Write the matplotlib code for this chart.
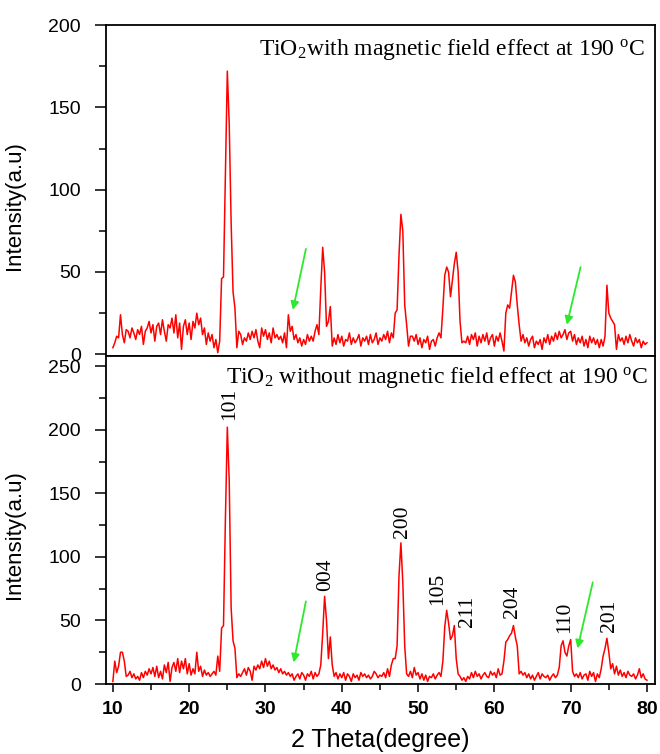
import numpy as np
import matplotlib
matplotlib.use("Agg")
import matplotlib.pyplot as plt

# XRD scans, 2 theta from 10 to 80 deg, step 0.25
with_field = [
    4, 7, 11, 10,  24, 12, 7, 15,  14, 10, 16, 13,  9, 15, 12, 17,  6, 14, 16, 20,
    13, 18, 8, 17,  19, 12, 21, 14,  8, 18, 16, 22,  13, 24, 10, 19,  3, 17, 21, 12,
    19, 9, 20, 16,  25, 18, 22, 12,  16, 6, 13, 8,  12, 4, 9, 1,  8, 46, 47, 110,
    172, 140, 80, 38,  28, 4, 14, 12,  6, 10, 8, 13,  9, 14, 10, 15,  8, 4, 16, 11,
    15, 9, 13, 7,  16, 10, 12, 9,  11, 7, 13, 4,  24, 14, 17, 9,  12, 7, 10, 5,
    9, 6, 12, 8,  11, 8, 14, 18,  12, 40, 65, 50,  17, 20, 29, 5,  10, 6, 12, 7,
    11, 5, 9, 8,  13, 6, 10, 7,  9, 12, 5, 10,  8, 11, 6, 12,  7, 9, 13, 6,
    10, 8, 12, 9,  14, 7, 13, 10,  25, 27, 60, 85,  75, 30, 18, 5,  11, 11, 8, 12,
    6, 10, 4, 9,  7, 11, 3, 8,  9, 5, 10, 13,  10, 28, 48, 53,  50, 35, 45, 55,
    62, 50, 20, 7,  8, 7, 11, 6,  12, 9, 13, 5,  11, 7, 12, 8,  13, 6, 10, 12,
    5, 11, 8, 13,  8, 2, 25, 30,  28, 38, 48, 44,  30, 18, 8, 12,  7, 10, 5, 9,
    11, 4, 8, 6,  9, 3, 10, 7,  12, 6, 11, 8,  13, 9, 14, 10,  12, 15, 9, 13,
    14, 8, 12, 6,  10, 7, 11, 5,  9, 4, 11, 7,  10, 6, 9, 4,  9, 5, 11, 42,
    25, 22, 20, 18,  3, 12, 8, 10,  6, 11, 7, 12,  8, 5, 10, 7,  9, 4, 8, 6,
    7,
]
without_field = [
    2, 18, 9, 14,  25, 25, 18, 6,  7, 10, 5, 8,  4, 6, 3, 9,  5, 10, 7, 12,
    8, 13, 6, 14,  5, 10, 4, 15,  9, 17, 2, 13,  17, 10, 20, 9,  18, 12, 20, 8,
    16, 7, 12, 8,  25, 10, 14, 6,  11, 7, 9, 6,  8, 10, 7, 22,  10, 44, 46, 130,
    202, 160, 60, 34,  28, 5, 8, 6,  9, 12, 7, 13,  10, 3, 14, 11,  15, 12, 18, 13,
    20, 14, 18, 12,  15, 11, 13, 9,  12, 8, 10, 7,  9, 6, 8, 3,  6, 8, 4, 9,
    7, 3, 8, 6,  10, 4, 9, 6,  8, 15, 40, 69,  50, 20, 37, 15,  6, 9, 4, 8,
    5, 9, 3, 8,  6, 2, 8, 5,  7, 3, 9, 6,  8, 5, 7, 4,  6, 10, 8, 5,
    7, 6, 9, 5,  12, 6, 15, 20,  20, 30, 85, 111,  80, 30, 8, 6,  10, 5, 13, 7,
    9, 4, 8, 3,  7, 2, 6, 5,  8, 4, 7, 9,  6, 18, 45, 58,  48, 35, 38, 46,
    20, 8, 6, 3,  5, 2, 6, 4,  9, 5, 10, 6,  8, 4, 7, 9,  6, 5, 10, 7,
    9, 5, 12, 7,  8, 18, 33, 35,  38, 40, 46, 37,  30, 8, 10, 7,  9, 5, 8, 4,
    7, 3, 6, 9,  4, 8, 6, 5,  7, 3, 6, 8,  5, 7, 13, 30,  34, 25, 22, 30,
    35, 10, 6, 8,  5, 9, 4, 7,  8, 3, 10, 6,  9, 2, 8, 5,  12, 22, 28, 36,
    25, 12, 16, 8,  14, 7, 11, 6,  9, 5, 10, 7,  6, 8, 4, 7,  12, 5, 8, 4,
    3,
]
two_theta = np.linspace(10, 80, len(with_field))
two_theta2 = np.linspace(10, 80, len(without_field))

# peak indexing (hkl) for the bottom panel
hkl_labels = ["101", "004", "200", "105", "211", "204", "110", "201"]
hkl_x = [25.3, 37.9, 48.0, 52.6, 56.5, 62.4, 69.2, 75.1]
hkl_y = [208, 73, 115, 62, 45, 52, 40, 41]

# green arrows (tail x, tail y, head x, head y)
arrows_top = [(35.3, 64, 33.6, 27), (71.3, 53, 69.5, 18)]
arrows_bot = [(35.3, 65, 33.7, 17), (72.9, 80, 70.9, 28)]

plt.rcParams['font.family'] = ['Liberation Sans', 'DejaVu Sans']
plt.rcParams['mathtext.fontset'] = 'custom'
plt.rcParams['mathtext.rm'] = 'Liberation Serif'
plt.rcParams['mathtext.it'] = 'Liberation Serif:italic'

fig = plt.figure(figsize=(6.6, 7.54), dpi=100)
ax1 = fig.add_axes([0.1606, 0.5279, 0.8318, 0.4389])
ax2 = fig.add_axes([0.1606, 0.0928, 0.8318, 0.4351])

ax1.plot(two_theta, with_field, color='red', lw=1.1)
ax2.plot(two_theta2, without_field, color='red', lw=1.1)

for ax in (ax1, ax2):
    ax.set_xlim(9.1, 81.05)
    for s in ax.spines.values():
        s.set_linewidth(1.3)
    ax.tick_params(axis='y', which='major', direction='out', length=8, width=1.1,
                   labelsize=14, pad=10)
    ax.tick_params(axis='y', which='minor', direction='out', length=5, width=1.1)
    ax.set_ylabel("Intensity(a.u)", fontsize=16)
    ax.yaxis.set_label_coords(-0.1475, 0.455)

ax1.set_ylim(-1, 200)
ax1.set_yticks([0, 50, 100, 150, 200])
ax1.set_yticks([25, 75, 125, 175], minor=True)
ax1.tick_params(axis='x', which='both', bottom=False, labelbottom=False)

ax2.set_ylim(0, 258)
ax2.set_yticks([0, 50, 100, 150, 200, 250])
ax2.set_yticks([25, 75, 125, 175, 225], minor=True)
ax2.set_xticks([10, 20, 30, 40, 50, 60, 70, 80])
ax2.set_xticks([15, 25, 35, 45, 55, 65, 75], minor=True)
ax2.tick_params(axis='x', which='major', direction='out', length=6, width=1.1,
                labelsize=14, pad=6)
ax2.tick_params(axis='x', which='minor', direction='out', length=4, width=1.1)
for lab in ax2.get_xticklabels():
    lab.set_fontweight('bold')
ax2.set_xlabel("2 Theta(degree)", fontsize=18)
ax2.xaxis.set_label_coords(0.5, -0.135)

ax1.text(0.982, 0.909, r"TiO$_2$with magnetic field effect at 190 $^{\mathrm{o}}$C",
         transform=ax1.transAxes, ha='right', va='baseline', fontsize=17,
         family='Liberation Serif')
ax2.text(0.987, 0.918, r"TiO$_2$ without magnetic field effect at 190 $^{\mathrm{o}}$C",
         transform=ax2.transAxes, ha='right', va='baseline', fontsize=17,
         family='Liberation Serif')

for lab, x, y in zip(hkl_labels, hkl_x, hkl_y):
    ax2.text(x, y, lab, rotation=90, ha='center', va='bottom', fontsize=15.5,
             family='Liberation Serif')

for ax, arrs in ((ax1, arrows_top), (ax2, arrows_bot)):
    for x0, y0, x1, y1 in arrs:
        ax.annotate("", xy=(x1, y1), xytext=(x0, y0),
                    arrowprops=dict(arrowstyle='-|>', color='#2ee82e', lw=1.3,
                                    mutation_scale=12, shrinkA=0, shrinkB=0))

fig.savefig("out.png", dpi=100)
